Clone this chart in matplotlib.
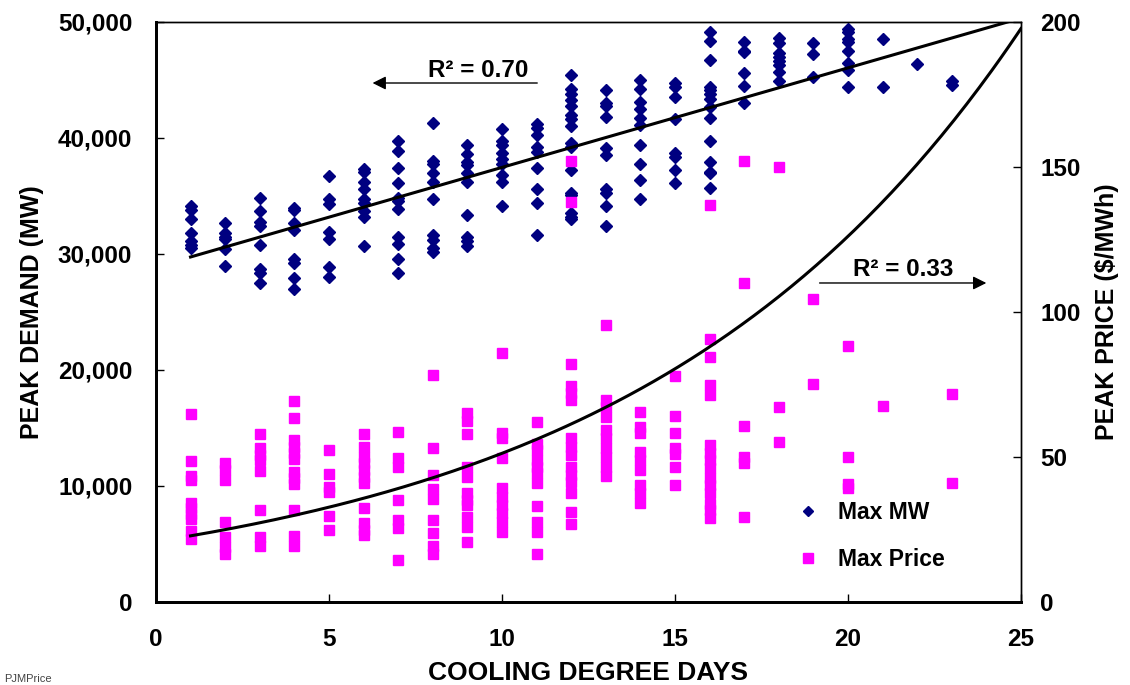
import numpy as np
import matplotlib
matplotlib.use("Agg")
import matplotlib.pyplot as plt
from matplotlib.lines import Line2D

plt.rcParams['font.family'] = ['Liberation Sans', 'DejaVu Sans']
plt.rcParams['font.weight'] = 'bold'
plt.rcParams['axes.labelweight'] = 'bold'

# cooling degree days (x positions of the columns)
cdd = list(range(1, 24))

# peak demand (MW) for each CDD value
max_mw = [
    [34100, 33800, 33000, 31800, 31100, 30500, 30800],
    [32700, 31800, 31500, 31300, 30400, 29000],
    [34800, 33700, 32800, 32400, 30800, 28700, 28400, 27500],
    [34000, 33800, 32700, 32100, 29600, 29200, 27900, 27000],
    [36700, 34700, 34300, 31900, 31300, 28900, 28000],
    [37300, 37100, 36200, 35600, 34700, 34400, 33700, 33200, 30700],
    [39700, 38900, 37400, 36100, 34800, 34600, 33900, 31500, 30900, 29600, 28400],
    [41300, 38000, 37800, 37000, 36200, 34700, 31600, 31200, 30500, 30200],
    [39400, 38600, 37900, 37700, 37000, 36200, 33400, 31500, 31100, 30700],
    [40800, 39700, 39400, 38700, 38200, 37800, 36800, 36200, 34100],
    [41200, 40900, 40300, 39200, 38800, 37400, 35600, 34400, 31600],
    [45400, 44200, 43800, 43300, 42800, 42000, 41600, 41000, 39600, 39200,
     37200, 35300, 35100, 33500, 33200, 33000],
    [44100, 43000, 42800, 41800, 39100, 38500, 35600, 35300, 34100, 32400],
    [45000, 44200, 43100, 42500, 41700, 41100, 39400, 37800, 36400, 34700],
    [44700, 44400, 43500, 41600, 38700, 38400, 37200, 36100],
    [49100, 48400, 46700, 44400, 44100, 43800, 43400, 42700, 41700, 39700,
     37900, 37100, 37000, 35700],
    [48300, 47500, 47400, 45600, 44500, 43000],
    [48600, 48200, 47300, 47000, 46600, 46300, 45700, 44900],
    [48200, 47200, 45300],
    [49400, 49100, 48500, 48300, 47500, 46500, 45900, 44400],
    [48500, 44400],
    [46400],
    [44900, 44600],
]

# peak price ($/MWh) for each CDD value
max_price = [
    [64.7, 48.6, 43.6, 42.1, 34.2, 32.3, 30.2, 28.6, 24.6, 21.8],
    [47.8, 45.5, 42.1, 27.7, 22.3, 19.1, 16.6],
    [57.8, 53.0, 50.7, 49.0, 45.2, 31.7, 22.5, 19.3],
    [69.3, 63.6, 55.9, 53.6, 51.3, 49.2, 44.9, 42.7, 40.6, 31.7, 22.9, 19.3],
    [52.4, 44.1, 39.8, 38.0, 29.7, 24.8],
    [57.8, 53.6, 50.1, 47.8, 45.5, 43.2, 41.1, 32.5, 27.1, 24.8, 23.0],
    [58.7, 49.5, 46.7, 35.2, 28.3, 25.4, 14.5],
    [78.2, 53.1, 43.8, 38.9, 35.4, 28.3, 23.7, 19.3, 16.6],
    [65.1, 62.5, 57.9, 46.7, 43.2, 37.5, 35.2, 33.4, 29.4, 26.0, 20.6],
    [86.0, 58.2, 56.4, 49.5, 39.2, 36.1, 33.4, 30.6, 27.7, 24.2],
    [62.2, 54.5, 52.4, 49.0, 46.7, 44.4, 40.9, 33.1, 27.7, 24.0, 16.6],
    [152.1, 137.9, 82.0, 74.5, 72.0, 69.7, 56.4, 53.6, 50.7, 46.7, 43.8,
     41.5, 37.5, 31.1, 26.8],
    [95.5, 69.7, 67.3, 63.7, 59.3, 56.4, 53.0, 50.1, 46.7, 43.4],
    [65.6, 60.4, 58.4, 51.8, 49.0, 45.5, 40.3, 37.5, 34.2],
    [77.9, 64.1, 58.2, 53.0, 51.0, 46.7, 40.3],
    [136.9, 90.6, 84.4, 74.8, 71.4, 54.1, 51.3, 49.0, 46.1, 42.7, 40.3,
     37.5, 33.8, 31.7, 28.9],
    [152.0, 110.0, 60.7, 50.1, 48.0, 29.4],
    [150.0, 67.3, 55.3],
    [104.4, 75.1],
    [88.4, 49.9, 40.7, 39.2],
    [67.7],
    [],
    [71.7, 41.1],
]

# trendlines as shown on the chart (linear for MW, exponential for price)
mw_slope, mw_intercept = 858.0, 28883.0
price_a, price_b = 20.84, 0.09

mw_x = [d for d, vals in zip(cdd, max_mw) for v in vals]
mw_y = [v for vals in max_mw for v in vals]
pr_x = [d for d, vals in zip(cdd, max_price) for v in vals]
pr_y = [v for vals in max_price for v in vals]

fig = plt.figure(figsize=(11.3, 6.85), dpi=100)
ax1 = fig.add_axes([0.138, 0.1212, 0.7655, 0.8467])
ax2 = ax1.twinx()

navy = '#000080'
magenta = '#FF00FF'

ax1.plot(mw_x, mw_y, linestyle='none', marker='D', ms=6, color=navy, zorder=3)
xt = np.linspace(1, 25, 200)
ax1.plot(xt, mw_slope * xt + mw_intercept, color='black', lw=2.2, zorder=4)

ax2.plot(pr_x, pr_y, linestyle='none', marker='s', ms=7, color=magenta, zorder=3)
ax2.plot(xt, price_a * np.exp(price_b * xt), color='black', lw=2.2, zorder=4)

ax1.set_xlim(0, 25)
ax1.set_ylim(0, 50000)
ax2.set_ylim(0, 200)
ax1.set_xticks([0, 5, 10, 15, 20, 25])
ax1.set_yticks(range(0, 50001, 10000))
ax1.set_yticklabels([f"{v:,}" for v in range(0, 50001, 10000)])
ax2.set_yticks([0, 50, 100, 150, 200])

ax1.tick_params(axis='both', direction='in', length=6, width=1, labelsize=17.5, pad=17)
ax1.tick_params(axis='x', pad=19)
ax2.tick_params(axis='y', direction='in', length=6, width=1, labelsize=17.5, pad=14)

for a in (ax1, ax2):
    a.spines['left'].set_linewidth(2)
    a.spines['bottom'].set_linewidth(2)
    a.spines['top'].set_linewidth(1)
    a.spines['right'].set_linewidth(1)

ax1.set_xlabel('COOLING DEGREE DAYS', fontsize=19, labelpad=7)
ax1.set_ylabel('PEAK DEMAND (MW)', fontsize=18, labelpad=10)
ax2.set_ylabel('PEAK PRICE ($/MWh)', fontsize=18, labelpad=10)

# R^2 callouts with arrows pointing to their axis
ax1.annotate('', xy=(6.18, 44740), xytext=(11.1, 44740),
             arrowprops=dict(arrowstyle='-|>', color='black', lw=1, mutation_scale=20))
ax1.text(9.3, 45300, 'R² = 0.70', ha='center', va='baseline', fontsize=17.5)

ax2.annotate('', xy=(24.08, 110), xytext=(19.1, 110),
             arrowprops=dict(arrowstyle='-|>', color='black', lw=1, mutation_scale=20))
ax2.text(21.6, 112.4, 'R² = 0.33', ha='center', va='baseline', fontsize=17.5)

legend_elements = [
    Line2D([0], [0], linestyle='none', marker='D', ms=5, color=navy, label='Max MW'),
    Line2D([0], [0], linestyle='none', marker='s', ms=7, color=magenta, label='Max Price'),
]
ax2.legend(handles=legend_elements, loc='lower left', bbox_to_anchor=(0.717, 0.017),
           frameon=False, fontsize=16.5, labelspacing=1.05, handlelength=1, handletextpad=0.8)

fig.text(0.004, 0.002, 'PJMPrice', fontsize=8, color='#444444', fontweight='normal',
         va='bottom', ha='left')

plt.savefig('out.png', dpi=100)
